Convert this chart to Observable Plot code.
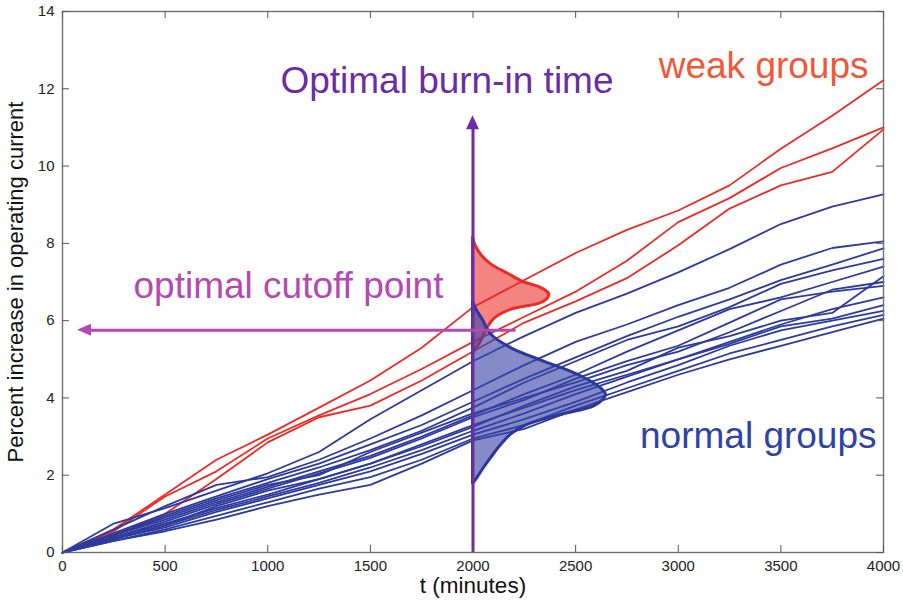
<!DOCTYPE html>
<html>
<head>
<meta charset="utf-8">
<script src="https://cdn.jsdelivr.net/npm/d3@7"></script>
<script src="https://cdn.jsdelivr.net/npm/@observablehq/plot@0.6"></script>
<style>
  body { margin: 0; background: #fff; }
  #chart { width: 903px; height: 609px; }
</style>
</head>
<body>
<div id="chart"></div>
<script>
// ---------- data ----------
const times = [0, 250, 500, 750, 1000, 1250, 1500, 1750, 2000, 2250, 2500, 2750, 3000, 3250, 3500, 3750, 4000];

const weakA = [0, 0.6, 1.5, 2.4, 3.05, 3.75, 4.45, 5.3, 6.35, 7.05, 7.75, 8.35, 8.85, 9.5, 10.45, 11.3, 12.22];
const weakB = [0, 0.55, 1.45, 2.1, 2.95, 3.55, 4.1, 4.75, 5.45, 6.1, 6.75, 7.55, 8.55, 9.17, 9.95, 10.46, 11.0];
const weakC = [0, 0.45, 1.0, 1.9, 2.85, 3.5, 3.8, 4.45, 5.2, 5.95, 6.5, 7.1, 7.95, 8.9, 9.5, 9.85, 10.95];

const normal01 = [0, 0.75, 1.15, 1.6, 2.05, 2.6, 3.45, 4.2, 4.95, 5.6, 6.2, 6.7, 7.25, 7.85, 8.5, 8.95, 9.27];
const normal02 = [0, 0.6, 1.2, 1.75, 1.95, 2.4, 2.95, 3.55, 4.2, 4.85, 5.45, 5.9, 6.4, 6.85, 7.45, 7.88, 8.05];
const normal03 = [0, 0.5, 1.0, 1.45, 1.9, 2.3, 2.8, 3.3, 3.9, 4.5, 5.05, 5.6, 6.1, 6.55, 7.05, 7.45, 7.87];
const normal04 = [0, 0.45, 0.95, 1.4, 1.8, 2.2, 2.65, 3.15, 3.75, 4.4, 4.95, 5.5, 5.85, 6.35, 6.95, 7.3, 7.6];
const normal05 = [0, 0.45, 0.85, 1.3, 1.7, 2.1, 2.5, 3.0, 3.55, 4.1, 4.6, 5.2, 5.75, 6.3, 6.6, 7.0, 7.4];
const normal06 = [0, 0.4, 0.8, 1.25, 1.65, 2.05, 2.45, 2.95, 3.5, 3.95, 4.5, 4.95, 5.35, 5.95, 6.55, 6.75, 6.9];
const normal07 = [0, 0.4, 0.75, 1.15, 1.5, 1.9, 2.3, 2.75, 3.25, 3.8, 4.3, 4.7, 5.3, 5.6, 6.0, 6.2, 7.15];
const normal08 = [0, 0.35, 0.7, 1.1, 1.45, 1.8, 2.2, 2.65, 3.15, 3.6, 4.1, 4.55, 5.0, 5.45, 5.9, 6.3, 6.6];
const normal09 = [0, 0.35, 0.65, 1.05, 1.4, 1.75, 2.1, 2.55, 3.05, 3.45, 3.9, 4.4, 4.85, 5.35, 5.75, 6.0, 6.25];
const normal10 = [0, 0.3, 0.6, 0.95, 1.3, 1.65, 1.95, 2.4, 2.95, 3.3, 3.8, 4.25, 4.7, 5.15, 5.5, 5.85, 6.15];
const normal11 = [0, 0.3, 0.55, 0.85, 1.2, 1.5, 1.75, 2.3, 2.9, 3.2, 3.7, 4.15, 4.6, 5.0, 5.35, 5.7, 6.05];
const normal12 = [0, 0.45, 0.9, 1.35, 1.75, 2.0, 2.6, 3.1, 3.6, 4.0, 4.4, 4.85, 5.2, 5.7, 6.25, 6.8, 7.0];
const normal13 = [0, 0.35, 0.7, 1.2, 1.6, 1.9, 2.3, 2.8, 3.3, 3.75, 4.2, 4.6, 5.0, 5.4, 5.85, 6.05, 6.4];

// distributions at the burn-in time (value, width in minutes)
const weakDensityV = [5.15, 5.45, 5.8, 6.05, 6.28, 6.45, 6.6, 6.7, 6.85, 7.0, 7.2, 7.45, 7.7, 7.95, 8.15];
const weakDensityW = [0, 38, 70, 105, 185, 330, 368, 370, 330, 245, 175, 90, 40, 12, 0];
const normalDensityV = [1.78, 1.84, 2.2, 2.53, 2.8, 3.05, 3.3, 3.56, 3.78, 3.95, 4.08, 4.25, 4.6, 4.94, 5.29, 5.64, 6.0, 6.3, 6.5];
const normalDensityW = [0, 10, 55, 100, 140, 185, 265, 430, 590, 635, 648, 624, 511, 346, 185, 88, 50, 15, 0];

const burnInTime = 2000;
const cutoffValue = 5.75;

const xTicks = [0, 500, 1000, 1500, 2000, 2500, 3000, 3500, 4000];
const yTicks = [0, 2, 4, 6, 8, 10, 12, 14];

const xLabel = "t (minutes)";
const yLabel = "Percent increase in operating current";
const burnInLabel = "Optimal burn-in time";
const cutoffLabel = "optimal cutoff point";
const weakLabel = "weak groups";
const normalLabel = "normal groups";

// ---------- tables ----------
const weakSeries = [weakA, weakB, weakC];
const normalSeries = [normal01, normal02, normal03, normal04, normal05, normal06, normal07,
  normal08, normal09, normal10, normal11, normal12, normal13];
const toRows = (series) => series.flatMap((vals, id) => vals.map((v, i) => ({ id, t: times[i], v })));
const weakRows = toRows(weakSeries);
const normalRows = toRows(normalSeries);
const weakDensity = weakDensityV.map((v, i) => ({ v, x1: burnInTime, x2: burnInTime + weakDensityW[i] }));
const normalDensity = normalDensityV.map((v, i) => ({ v, x1: burnInTime, x2: burnInTime + normalDensityW[i] }));

// ---------- styles ----------
const W = 903, H = 609;
const mL = 62, mR = 20, mT = 11, mB = 57;
const plotW = W - mL - mR, plotH = H - mT - mB;
const RED = "#ec2b26", BLUE = "#2d3a9e";
const PURPLE = "#6b2da5", MAGENTA = "#b449b4";
const tickColor = "#555";

function arrowHead(tx, ty, dir, len, halfW, color) {
  return (index, scales) => {
    const x = scales.x(tx), y = scales.y(ty);
    const pts = dir === "up"
      ? [[x, y], [x - halfW, y + len], [x + halfW, y + len]]
      : [[x, y], [x + len, y - halfW], [x + len, y + halfW]];
    return d3.create("svg:path").attr("d", "M" + pts.join("L") + "Z").attr("fill", color).node();
  };
}

const chart = Plot.plot({
  width: W, height: H,
  marginLeft: mL, marginRight: mR, marginTop: mT, marginBottom: mB,
  style: { fontFamily: "'Liberation Sans', Arial, Helvetica, sans-serif", fontSize: "15px", color: "#222", background: "#fff" },
  x: { domain: [0, 4000], ticks: xTicks, tickSize: 0, tickPadding: 8, tickFormat: "d", label: null },
  y: { domain: [0, 14], ticks: yTicks, tickSize: 0, tickPadding: 8, tickFormat: "d", label: null },
  marks: [
    Plot.line(weakRows, { x: "t", y: "v", z: "id", stroke: RED, strokeWidth: 1.8 }),
    Plot.line(normalRows, { x: "t", y: "v", z: "id", stroke: BLUE, strokeWidth: 1.8 }),
    Plot.areaX(weakDensity, { y: "v", x1: "x1", x2: "x2", fill: RED, fillOpacity: 0.58, stroke: RED, strokeWidth: 3, curve: "catmull-rom" }),
    Plot.areaX(normalDensity, { y: "v", x1: "x1", x2: "x2", fill: "#3a44a6", fillOpacity: 0.62, stroke: "#2b3899", strokeWidth: 3, curve: "catmull-rom" }),
    // burn-in vertical arrow
    Plot.ruleX([burnInTime], { y1: 0, y2: 11.0, stroke: PURPLE, strokeWidth: 3 }),
    arrowHead(burnInTime, 11.3, "up", 14, 6.5, PURPLE),
    // cutoff horizontal arrow
    Plot.ruleY([cutoffValue], { x1: 2210, x2: 120, stroke: MAGENTA, strokeWidth: 3 }),
    arrowHead(73, cutoffValue, "left", 14, 6, MAGENTA),
    // annotations
    Plot.text([burnInLabel], { x: 1873, y: 11.9, text: d => d, fill: PURPLE, fontSize: 37, textAnchor: "middle", lineAnchor: "bottom" }),
    Plot.text([weakLabel], { x: 3927, y: 12.28, text: d => d, fill: "#f0583a", fontSize: 37, textAnchor: "end", lineAnchor: "bottom" }),
    Plot.text([cutoffLabel], { x: 346, y: 6.59, text: d => d, fill: MAGENTA, fontSize: 37, textAnchor: "start", lineAnchor: "bottom" }),
    Plot.text([normalLabel], { x: 3966, y: 2.71, text: d => d, fill: "#2f42a6", fontSize: 37, textAnchor: "end", lineAnchor: "bottom" }),
    // frame and inward ticks
    Plot.frame({ stroke: "#707070", strokeWidth: 1.4 }),
    Plot.ruleX(xTicks, { stroke: tickColor, insetTop: plotH - 7 }),
    Plot.ruleX(xTicks, { stroke: tickColor, insetBottom: plotH - 7 }),
    Plot.ruleY(yTicks, { stroke: tickColor, insetRight: plotW - 7 }),
    Plot.ruleY(yTicks, { stroke: tickColor, insetLeft: plotW - 7 }),
    // axis titles
    Plot.text([xLabel], { frameAnchor: "bottom", dy: 40, text: d => d, fontSize: 22.5, fill: "#111" }),
    Plot.text([yLabel], { frameAnchor: "left", dx: -47, rotate: -90, textAnchor: "middle", text: d => d, fontSize: 22, fill: "#111" })
  ]
});
document.getElementById("chart").appendChild(chart);
</script>
</body>
</html>
